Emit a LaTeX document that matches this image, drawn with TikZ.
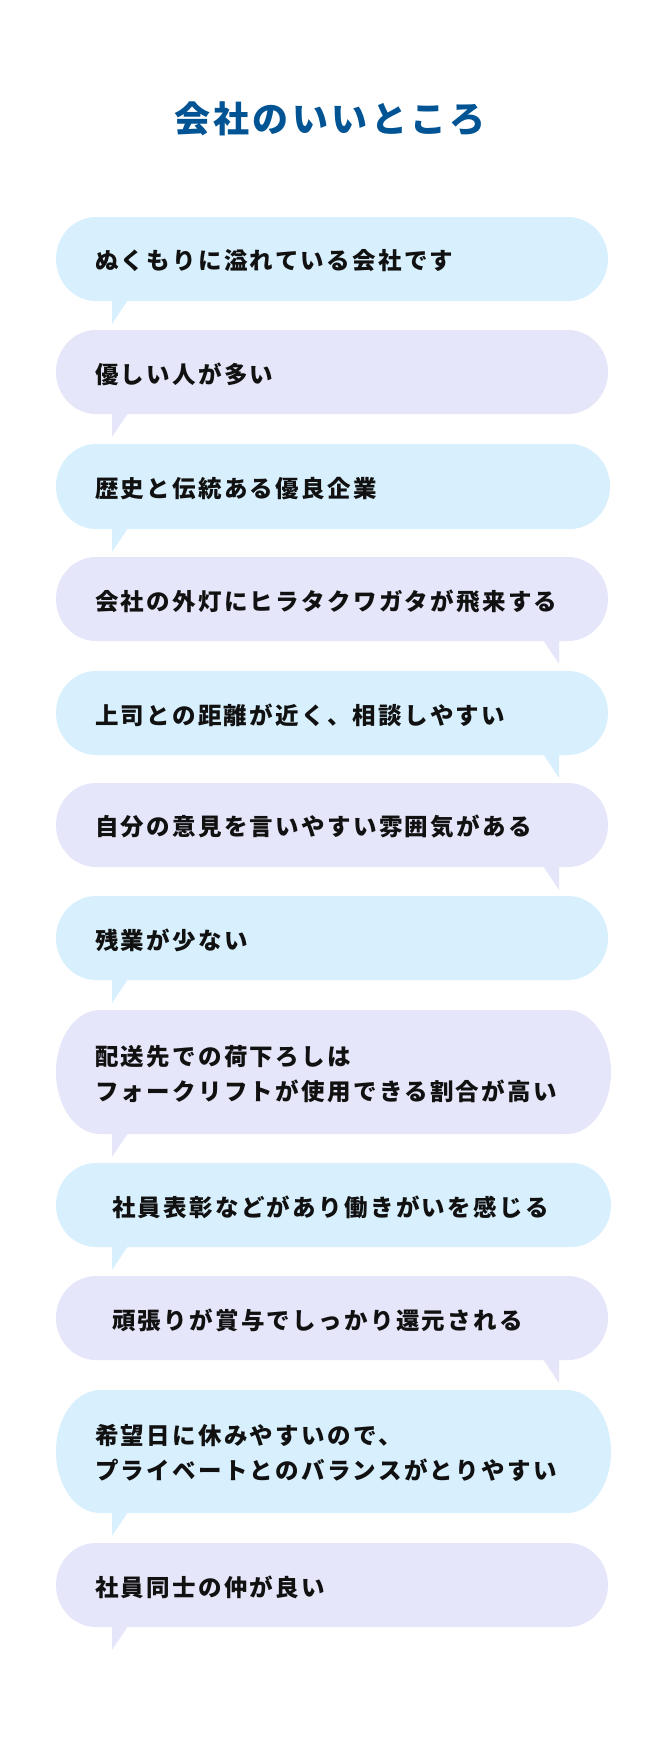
\documentclass[tikz,border=0pt]{standalone}
\usepackage{fontspec}
\newfontfamily\jpfont{Noto Sans CJK JP}[LetterSpace=9.8]
\newfontfamily\jptitle{Noto Sans CJK JP}[LetterSpace=9.5]
\definecolor{bblue}{HTML}{D8F0FD}
\definecolor{blav}{HTML}{E6E6FA}
\definecolor{ttl}{HTML}{005494}
\definecolor{ink}{HTML}{111111}
\newcommand\mybubble[6]{%
  \pgfmathsetmacro\myry{#2/2}%
  \pgfmathsetmacro\mybot{#1+#2}%
  \fill[#4] (56+#6,#1) -- (#3-#6,#1)
     arc[start angle=90,end angle=-90,x radius=#6pt,y radius=\myry pt]
     -- (56+#6,\mybot)
     arc[start angle=270,end angle=90,x radius=#6pt,y radius=\myry pt] -- cycle;
  \ifx L#5
    \fill[#4] (112,\mybot-1) -- (112,\mybot+23) -- (128,\mybot-1) -- cycle;
  \else
    \fill[#4] (559,\mybot-1) -- (559,\mybot+23) -- (543,\mybot-1) -- cycle;
  \fi
}
\begin{document}
\begin{tikzpicture}[x=1pt,y=-1pt,
  txt/.style={anchor=west,inner sep=0pt,text=ink,align=left,
    font=\jpfont\bfseries\fontsize{23.5}{35}\selectfont},
  ttlstyle/.style={inner sep=0pt,text=ttl,
    font=\jptitle\bfseries\fontsize{36}{40}\selectfont}]
\useasboundingbox (0,0) rectangle (670,1750);
\fill[white] (0,0) rectangle (670,1750);

\node[ttlstyle] (title) at (330,119) {会社のいいところ};

\mybubble{217}{84}{608}{bblue}{L}{40}
\node[txt] (t1) at (95,261) {ぬくもりに溢れている会社です};

\mybubble{330}{84}{608}{blav}{L}{40}
\node[txt] (t2) at (95,374) {優しい人が多い};

\mybubble{444}{85}{610}{bblue}{L}{40}
\node[txt] (t3) at (95,488.5) {歴史と伝統ある優良企業};

\mybubble{557}{84}{608}{blav}{R}{40}
\node[txt] (t4) at (95,601) {会社の外灯にヒラタクワガタが飛来する};

\mybubble{671}{84}{608}{bblue}{R}{40}
\node[txt] (t5) at (95,715) {上司との距離が近く、相談しやすい};

\mybubble{783}{84}{608}{blav}{R}{40}
\node[txt] (t6) at (95,827) {自分の意見を言いやすい雰囲気がある};

\mybubble{896}{84}{608}{bblue}{L}{40}
\node[txt] (t7) at (95,940) {残業が少ない};

\mybubble{1010}{124}{611}{blav}{L}{44}
\node[txt] (t8) at (95,1074) {配送先での荷下ろしは\\フォークリフトが使用できる割合が高い};

\mybubble{1163}{84}{611}{bblue}{L}{40}
\node[txt] (t9) at (112,1207) {社員表彰などがあり働きがいを感じる};

\mybubble{1276}{84}{608}{blav}{R}{40}
\node[txt] (t10) at (112,1320) {頑張りが賞与でしっかり還元される};

\mybubble{1390}{123}{611}{bblue}{L}{44}
\node[txt] (t11) at (95,1453) {希望日に休みやすいので、\\プライベートとのバランスがとりやすい};

\mybubble{1543}{84}{608}{blav}{L}{40}
\node[txt] (t12) at (95,1587) {社員同士の仲が良い};
\end{tikzpicture}
\end{document}
